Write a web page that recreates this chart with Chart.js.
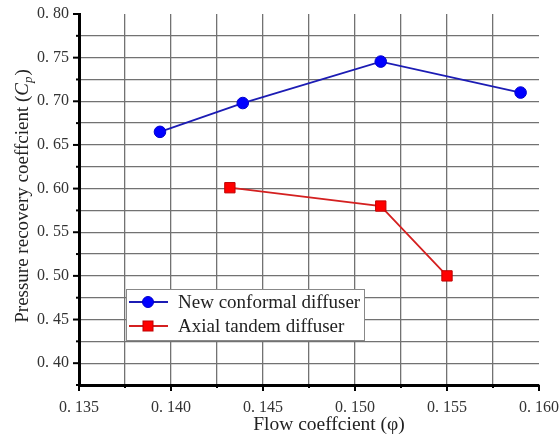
<!DOCTYPE html>
<html>
<head>
<meta charset="utf-8">
<script src="https://cdn.jsdelivr.net/npm/chart.js@4.4.1/dist/chart.umd.min.js"></script>
<style>
html,body{margin:0;padding:0;background:#fff;}
#wrap{width:559px;height:440px;position:relative;}
</style>
</head>
<body>
<div id="wrap"><canvas id="c" width="559" height="440"></canvas></div>
<script>
// ---- data ----
const seriesNames = ['New conformal diffuser', 'Axial tandem diffuser'];
const conformalX = [0.1394, 0.1439, 0.1514, 0.1590];
const conformalY = [0.665, 0.698, 0.7455, 0.710];
const tandemX = [0.1432, 0.1514, 0.1550];
const tandemY = [0.601, 0.580, 0.500];
const xTickLabels = ['0. 135', '0. 140', '0. 145', '0. 150', '0. 155', '0. 160'];
const yTickLabels = ['0. 40', '0. 45', '0. 50', '0. 55', '0. 60', '0. 65', '0. 70', '0. 75', '0. 80'];
const xTitle = 'Flow coeffcient (φ)';
const yTitle = 'Pressure recovery coeffcient (';

const SERIF = '"Liberation Serif", "DejaVu Serif", serif';
const X_MIN = 0.135, X_MAX = 0.160, Y_MIN = 0.375, Y_MAX = 0.80;

function pts(xs, ys){ return xs.map((x,i)=>({x:x, y:ys[i]})); }
function near(a,b){ return Math.abs(a-b) < 1e-7; }

function xLabelFor(v){
  const i = Math.round((v - 0.135)/0.005);
  if (near(v, 0.135 + i*0.005) && i>=0 && i<xTickLabels.length) return xTickLabels[i];
  return '';
}
function yLabelFor(v){
  const i = Math.round((v - 0.40)/0.05);
  if (near(v, 0.40 + i*0.05) && i>=0 && i<yTickLabels.length) return yTickLabels[i];
  return '';
}

const decor = {
  id: 'decor',
  afterDraw(chart){
    const ctx = chart.ctx, xs = chart.scales.x, ys = chart.scales.y, ca = chart.chartArea;
    ctx.save();
    ctx.strokeStyle = '#000';
    ctx.lineWidth = 2;
    xs.ticks.forEach(t=>{
      const px = xs.getPixelForValue(t.value);
      const major = xLabelFor(t.value) !== '';
      ctx.beginPath(); ctx.moveTo(px, ca.bottom); ctx.lineTo(px, ca.bottom + (major?6:3)); ctx.stroke();
    });
    ys.ticks.forEach(t=>{
      const py = ys.getPixelForValue(t.value);
      const major = yLabelFor(t.value) !== '';
      ctx.beginPath(); ctx.moveTo(ca.left, py); ctx.lineTo(ca.left - (major?6:3), py); ctx.stroke();
    });
    // x title
    ctx.fillStyle = '#222';
    ctx.font = '19.5px ' + SERIF;
    ctx.textAlign = 'center'; ctx.textBaseline = 'alphabetic';
    ctx.fillText(xTitle, 329, 430);
    // y title (rotated) with italic C and subscript p
    ctx.save();
    ctx.translate(28, 196);
    ctx.rotate(-Math.PI/2);
    ctx.textAlign = 'left';
    const f1 = '19px ' + SERIF, f2 = 'italic 19px ' + SERIF, f3 = 'italic 13px ' + SERIF;
    ctx.font = f1; const w1 = ctx.measureText(yTitle).width;
    ctx.font = f2; const w2 = ctx.measureText('C').width;
    ctx.font = f3; const w3 = ctx.measureText('p').width;
    ctx.font = f1; const w4 = ctx.measureText(')').width;
    let x0 = -(w1+w2+w3+w4+1)/2;
    ctx.font = f1; ctx.fillText(yTitle, x0, 0); x0 += w1;
    ctx.font = f2; ctx.fillText('C', x0, 0); x0 += w2;
    ctx.font = f3; ctx.fillText('p', x0, 4); x0 += w3 + 1;
    ctx.font = f1; ctx.fillText(')', x0, 0);
    ctx.restore();
    // legend
    const lx = 126, ly = 289, lw = 238, lh = 51;
    ctx.fillStyle = '#fff';
    ctx.fillRect(lx, ly, lw, lh);
    ctx.strokeStyle = '#888'; ctx.lineWidth = 1;
    ctx.strokeRect(lx+0.5, ly+0.5, lw, lh);
    const rows = [
      {y: 302, line:'#1c1cb4', fill:'#0000ff', stroke:'#0000cc', shape:'circle'},
      {y: 326, line:'#d42020', fill:'#ff0000', stroke:'#c00000', shape:'rect'}
    ];
    rows.forEach((r,i)=>{
      ctx.strokeStyle = r.line; ctx.lineWidth = 1.8;
      ctx.beginPath(); ctx.moveTo(129, r.y); ctx.lineTo(168, r.y); ctx.stroke();
      ctx.fillStyle = r.fill; ctx.strokeStyle = r.stroke; ctx.lineWidth = 1;
      if (r.shape === 'circle'){ ctx.beginPath(); ctx.arc(148, r.y, 5.5, 0, Math.PI*2); ctx.fill(); ctx.stroke(); }
      else { ctx.fillRect(143, r.y-5, 10, 10); ctx.strokeRect(143, r.y-5, 10, 10); }
      ctx.fillStyle = '#222'; ctx.font = '19px ' + SERIF; ctx.textAlign = 'left'; ctx.textBaseline = 'middle';
      ctx.fillText(seriesNames[i], 178, r.y + 1);
    });
    ctx.restore();
  }
};

new Chart(document.getElementById('c'), {
  type: 'scatter',
  data: {
    datasets: [
      { label: seriesNames[0], data: pts(conformalX, conformalY), showLine: true,
        borderColor: '#1c1cb4', borderWidth: 1.8, backgroundColor: '#0000ff',
        pointBorderColor: '#0000cc', pointBorderWidth: 1, pointRadius: 5.8, pointStyle: 'circle' },
      { label: seriesNames[1], data: pts(tandemX, tandemY), showLine: true,
        borderColor: '#d42020', borderWidth: 1.8, backgroundColor: '#ff0000',
        pointBorderColor: '#c00000', pointBorderWidth: 1, pointRadius: 7.3, pointStyle: 'rect' }
    ]
  },
  options: {
    responsive: false, animation: false,
    layout: { padding: { left: 0, right: 20, top: 14, bottom: 0 } },
    plugins: { legend: { display: false }, tooltip: { enabled: false } },
    scales: {
      x: {
        type: 'linear', min: X_MIN, max: X_MAX,
        afterFit(s){ s.height = 55; s.paddingLeft = 0; s.paddingRight = 0; },
        border: { display: true, color: '#000', width: 3 },
        grid: { drawTicks: false, lineWidth: 1.3,
          color: c => (c.tick && (near(c.tick.value, X_MAX) || near(c.tick.value, X_MIN))) ? 'rgba(0,0,0,0)' : '#727272' },
        ticks: { stepSize: 0.0025, autoSkip: false, maxRotation: 0, padding: 13, color: '#333',
          font: { family: SERIF, size: 16 }, callback: v => xLabelFor(v) }
      },
      y: {
        type: 'linear', min: Y_MIN, max: Y_MAX,
        afterFit(s){ s.width = 79; s.paddingTop = 0; s.paddingBottom = 0; },
        border: { display: true, color: '#000', width: 3 },
        grid: { drawTicks: false, lineWidth: 1.3,
          color: c => (c.tick && (near(c.tick.value, Y_MAX) || near(c.tick.value, Y_MIN))) ? 'rgba(0,0,0,0)' : '#727272' },
        ticks: { stepSize: 0.025, autoSkip: false, padding: 10, color: '#333',
          font: { family: SERIF, size: 16 }, callback: v => yLabelFor(v) }
      }
    }
  },
  plugins: [decor]
});
</script>
</body>
</html>
